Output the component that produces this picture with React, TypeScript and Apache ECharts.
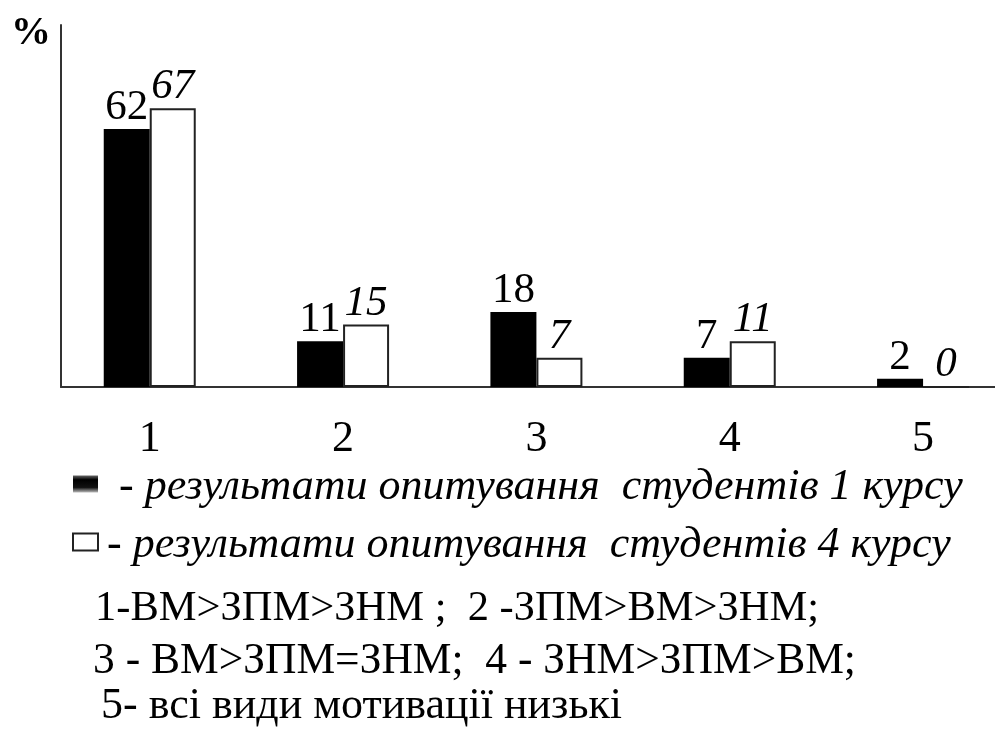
import React, { useEffect, useRef } from "react";
import * as echarts from "echarts";

const categories = ["1", "2", "3", "4", "5"];
const firstCourse = [62, 11, 18, 7, 2];
const fourthCourse = [67, 15, 7, 11, 0];
const seriesNames = [
  "результати опитування  студентів 1 курсу",
  "результати опитування  студентів 4 курсу",
];
const yUnit = "%";
const notes = [
  "1-ВМ>ЗПМ>ЗНМ ;  2 -ЗПМ>ВМ>ЗНМ;",
  "3 - ВМ>ЗПМ=ЗНМ;  4 - ЗНМ>ЗПМ>ВМ;",
  "5- всі види мотивації низькі",
];

const SERIF = "Liberation Serif";

export default function App() {
  const ref = useRef<HTMLDivElement>(null);
  useEffect(() => {
    if (!ref.current) return;
    const chart = echarts.init(ref.current, undefined, { renderer: "svg" });
    const positions = categories.map((_, i) => i + 1);
    chart.setOption({
      animation: false,
      grid: { left: 61, top: 25, right: 0, bottom: 342 },
      xAxis: {
        type: "value",
        min: 0.541,
        max: 5.372,
        axisLine: { show: true, onZero: false, lineStyle: { color: "#333", width: 2 } },
        axisTick: { show: false },
        splitLine: { show: false },
        axisLabel: {
          customValues: positions,
          formatter: (v: number) => categories[Math.round(v) - 1] ?? "",
          fontFamily: SERIF,
          fontSize: 44,
          color: "#000",
          margin: 27,
        },
      },
      yAxis: {
        type: "value",
        min: 0,
        max: 87,
        axisLine: { show: true, lineStyle: { color: "#333", width: 2 } },
        axisTick: { show: false },
        axisLabel: { show: false },
        splitLine: { show: false },
      },
      legend: {
        orient: "vertical",
        left: 67,
        top: 457,
        itemWidth: 25,
        itemHeight: 17,
        itemGap: 14,
        icon: "rect",
        formatter: (name: string) => "- " + name,
        textStyle: {
          fontFamily: SERIF,
          fontStyle: "italic",
          fontSize: 44,
          color: "#000",
          lineHeight: 44,
        },
        data: [
          {
            name: seriesNames[0],
            textStyle: { padding: [0, 0, 0, 16] },
            itemStyle: {
              color: new echarts.graphic.LinearGradient(0, 0, 0, 1, [
                { offset: 0, color: "#666" },
                { offset: 0.25, color: "#000" },
                { offset: 0.7, color: "#111" },
                { offset: 1, color: "#bbb" },
              ]),
            },
          },
          { name: seriesNames[1], textStyle: { padding: [0, 0, 0, 4] } },
        ],
      },
      series: [
        {
          name: seriesNames[0],
          type: "bar",
          barWidth: 46,
          barGap: "0%",
          data: positions.map((p, i) => [p, firstCourse[i]]),
          itemStyle: { color: "#000" },
          label: {
            show: true,
            position: "top",
            distance: 3,
            fontFamily: SERIF,
            fontSize: 43,
            color: "#000",
            formatter: (p: any) => String(p.value[1]),
          },
        },
        {
          name: seriesNames[1],
          type: "bar",
          barWidth: 46,
          barGap: "0%",
          data: positions.map((p, i) => [p, fourthCourse[i]]),
          itemStyle: { color: "#fff", borderColor: "#222", borderWidth: 2 },
          label: {
            show: true,
            position: "top",
            distance: 3,
            fontFamily: SERIF,
            fontStyle: "italic",
            fontSize: 43,
            color: "#000",
            formatter: (p: any) => String(p.value[1]),
          },
        },
      ],
      graphic: [
        {
          type: "text",
          x: 11,
          y: 10,
          style: { text: yUnit, fontFamily: SERIF, fontWeight: "bold", fontSize: 40, fill: "#000" },
        },
        ...notes.map((t, i) => ({
          type: "text",
          x: [95, 93, 101][i],
          y: [605, 658, 703][i],
          style: {
            text: t,
            fontFamily: SERIF,
            fontSize: [42.5, 43.5, 44][i],
            fill: "#000",
            verticalAlign: "middle",
          },
        })),
      ],
    });
    return () => chart.dispose();
  }, []);
  return (
    <div
      ref={ref}
      style={{ position: "fixed", left: 0, top: 0, width: 995, height: 729 }}
    />
  );
}
